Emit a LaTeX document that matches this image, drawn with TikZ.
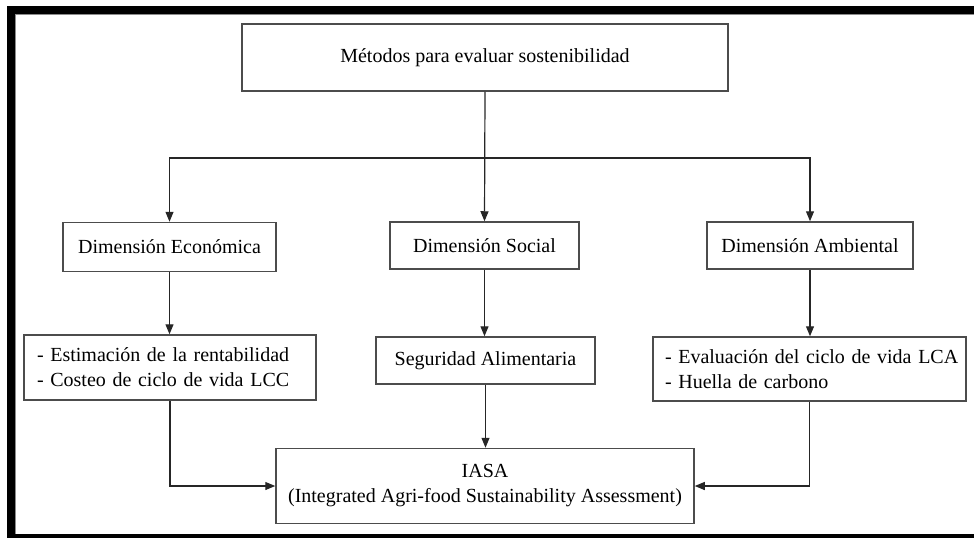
\documentclass[tikz,border=0pt]{standalone}
\usepackage{fontspec}
\setmainfont{Liberation Serif}
\usetikzlibrary{arrows.meta}
\tikzset{
  box/.style={draw=black!70, line width=1.5pt, inner sep=0pt, align=center},
  listbox/.style={box, align=left, inner xsep=13pt, text width=#1},
  link/.style={draw=black!85, line width=1.2pt},
  tip/.style={link, -{Triangle[length=10pt,width=8pt]}},
}
\begin{document}
\begin{tikzpicture}[x=1pt,y=-1pt,font=\fontsize{20}{25}\selectfont]
\useasboundingbox (0,0) rectangle (974,538);
% marco
\fill[black] (7,6) rectangle (974,14);
\fill[black] (7,6) rectangle (15,538);
\fill[black] (7,534) rectangle (974,538);
\draw[black!45, line width=0.8pt] (15,14.6) -- (974,14.6);
\draw[black!45, line width=0.8pt] (15.6,14) -- (15.6,534);
% cajas
\node[box, minimum width=486pt, minimum height=67pt] (metodos) at (485,57.5) {Métodos para evaluar sostenibilidad};
\coordinate (split) at (485,158);
\node[box, minimum width=213pt, minimum height=49pt] (eco) at (169.5,247) {Dimensión Económica};
\node[box, minimum width=189pt, minimum height=47pt] (soc) at (484.5,245.5) {Dimensión Social};
\node[box, minimum width=206pt, minimum height=47pt] (amb) at (810,245.5) {Dimensión Ambiental};
\node[listbox=266pt, minimum height=65pt] (lcc) at (170,367.5) {\mbox{- Estimación de la rentabilidad}\\\mbox{- Costeo de ciclo de vida LCC}};
\node[box, minimum width=219pt, minimum height=47pt] (seg) at (485.5,360.5) {Seguridad Alimentaria};
\node[listbox=289pt, inner xsep=12pt, minimum height=64pt] (lca) at (809.5,369) {\mbox{- Evaluación del ciclo de vida LCA}\\\mbox{- Huella de carbono}};
\node[box, minimum width=418pt, minimum height=75pt] (iasa) at (485,486) {IASA\\(Integrated Agri-food Sustainability Assessment)};
% conectores
\draw[tip] (metodos.south) -- (soc.north);
\draw[tip] (split) -| (eco.north);
\draw[tip] (split) -| (amb.north);
\draw[tip] (eco.south) -- (eco.south |- lcc.north);
\draw[tip] (soc.south) -- (soc.south |- seg.north);
\draw[tip] (amb.south) -- (amb.south |- lca.north);
\draw[tip] (lcc.south) |- (iasa.west);
\draw[tip] (seg.south) -- (seg.south |- iasa.north);
\draw[tip] (lca.south) |- (iasa.east);
\end{tikzpicture}
\end{document}
